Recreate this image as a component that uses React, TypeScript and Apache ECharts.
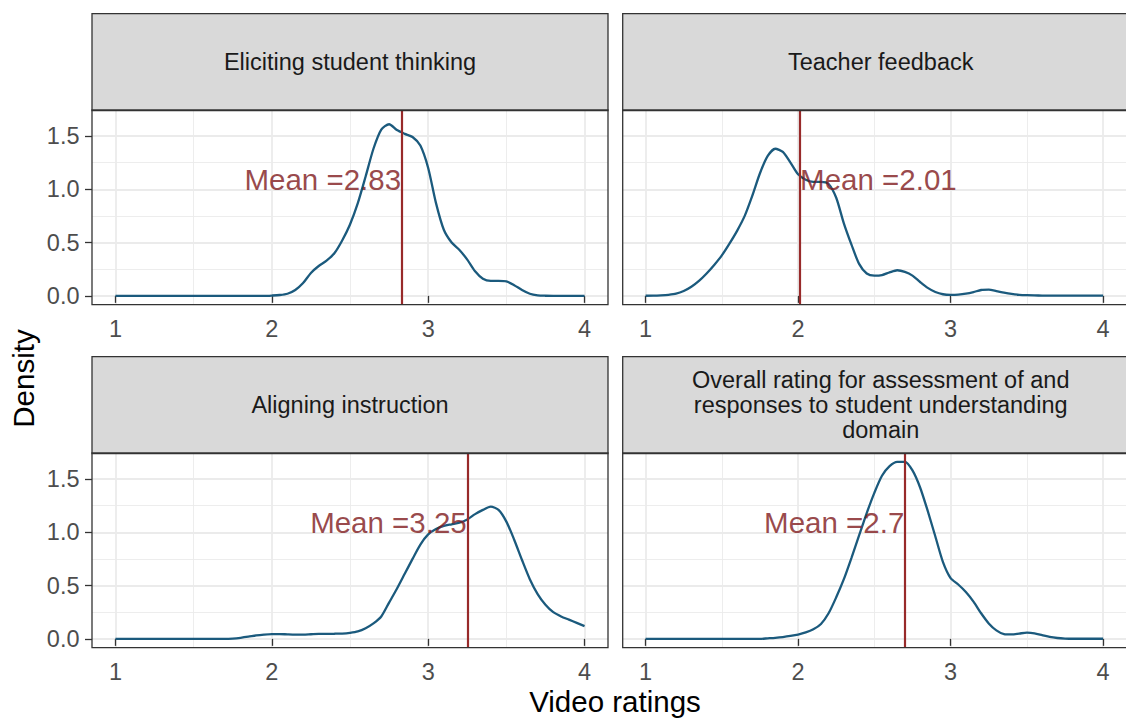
import React, { useEffect, useRef } from "react";
import * as echarts from "echarts";

// ---------- data ----------
const panelTitles = [
  "Eliciting student thinking",
  "Teacher feedback",
  "Aligning instruction",
  "Overall rating for assessment of and\nresponses to student understanding\ndomain",
];

const ratings = [
  1.0, 1.05, 1.1, 1.15, 1.2, 1.25, 1.3, 1.35, 1.4, 1.45,
  1.5, 1.55, 1.6, 1.65, 1.7, 1.75, 1.8, 1.85, 1.9, 1.95,
  2.0, 2.05, 2.1, 2.15, 2.2, 2.25, 2.3, 2.35, 2.4, 2.45,
  2.5, 2.55, 2.6, 2.65, 2.7, 2.75, 2.8, 2.85, 2.9, 2.95,
  3.0, 3.05, 3.1, 3.15, 3.2, 3.25, 3.3, 3.35, 3.4, 3.45,
  3.5, 3.55, 3.6, 3.65, 3.7, 3.75, 3.8, 3.85, 3.9, 3.95,
  4.0,
];

const densityEliciting = [
  0, 0, 0, 0, 0, 0, 0, 0, 0, 0,
  0, 0, 0, 0, 0, 0, 0, 0, 0, 0,
  0.003, 0.008, 0.02, 0.055, 0.12, 0.215, 0.28, 0.33, 0.4, 0.52,
  0.67, 0.87, 1.12, 1.38, 1.56, 1.61, 1.555, 1.52, 1.49, 1.41,
  1.2, 0.87, 0.62, 0.5, 0.43, 0.34, 0.23, 0.16, 0.14, 0.14,
  0.135, 0.1, 0.055, 0.02, 0.005, 0.001, 0, 0, 0, 0,
  0,
];

const densityFeedback = [
  0.001, 0.002, 0.005, 0.01, 0.02, 0.045, 0.085, 0.14, 0.21, 0.29,
  0.38, 0.49, 0.61, 0.75, 0.94, 1.15, 1.31, 1.38, 1.35, 1.25,
  1.14, 1.09, 1.07, 1.07, 1.05, 0.92, 0.68, 0.48, 0.3, 0.21,
  0.19, 0.195, 0.22, 0.24, 0.225, 0.19, 0.13, 0.075, 0.036, 0.015,
  0.01, 0.012, 0.02, 0.035, 0.055, 0.058, 0.045, 0.03, 0.018, 0.01,
  0.006, 0.004, 0.003, 0.002, 0.002, 0.002, 0.002, 0.002, 0.002, 0.002,
  0.002,
];

const densityAligning = [
  0, 0, 0, 0, 0, 0, 0, 0, 0, 0,
  0, 0, 0, 0, 0, 0.003, 0.01, 0.02, 0.032, 0.04,
  0.045, 0.045, 0.042, 0.04, 0.04, 0.043, 0.046, 0.047, 0.048, 0.05,
  0.057, 0.07, 0.1, 0.145, 0.21, 0.34, 0.47, 0.61, 0.75, 0.885,
  0.98, 1.03, 1.06, 1.075, 1.09, 1.12, 1.17, 1.21, 1.24, 1.21,
  1.1, 0.93, 0.74, 0.56, 0.42, 0.32, 0.25, 0.21, 0.18, 0.15,
  0.12,
];

const densityOverall = [
  0, 0, 0, 0, 0, 0, 0, 0, 0, 0,
  0, 0, 0, 0, 0, 0, 0.005, 0.01, 0.017, 0.027,
  0.04, 0.06, 0.09, 0.14, 0.24, 0.39, 0.56, 0.76, 0.97, 1.18,
  1.37, 1.53, 1.62, 1.66, 1.66, 1.58, 1.42, 1.2, 0.96, 0.72,
  0.57, 0.51, 0.44, 0.35, 0.24, 0.145, 0.08, 0.045, 0.042, 0.05,
  0.058, 0.052, 0.035, 0.018, 0.008, 0.003, 0.001, 0.001, 0.001, 0.001,
  0.001,
];

const densities = [densityEliciting, densityFeedback, densityAligning, densityOverall];
const means = [2.83, 2.01, 3.25, 2.7];
const meanLabels = ["Mean =2.83", "Mean =2.01", "Mean =3.25", "Mean =2.7"];
const meanLabelY = 1.09;

const xMajor = [1, 2, 3, 4];
const xMinor = [1.5, 2.5, 3.5];
const yMajor = [0, 0.5, 1, 1.5];
const yMinor = [0.25, 0.75, 1.25];
const xTickLabels = ["1", "2", "3", "4"];
const yTickLabels = ["0.0", "0.5", "1.0", "1.5"];

// ---------- layout / style ----------
const FONT = "'Liberation Sans', Arial, Helvetica, sans-serif";
const panelLeft = [92, 622.7, 92, 622.7];
const panelTop = [110.7, 110.7, 453.7, 453.7];
const stripTop = [13.7, 13.7, 356.7, 356.7];
const panelW = 516;
const panelH = 194;
const stripH = 97;
const labelSide = ["left", "right", "left", "left"];
const X_MIN = 0.85, X_MAX = 4.15, Y_MIN = -0.083, Y_MAX = 1.737;

const CURVE = "#1b5a7d";
const MEAN_LINE = "#982a2a";
const MEAN_TEXT = "#7e181b";
const GRID = "#EBEBEB";
const BORDER = "#333333";

export default function App() {
  const ref = useRef<HTMLDivElement>(null);

  useEffect(() => {
    if (!ref.current) return;
    const chart = echarts.init(ref.current, undefined, { renderer: "svg" });

    const grids: any[] = [];
    const xAxes: any[] = [];
    const yAxes: any[] = [];
    const series: any[] = [];
    const graphics: any[] = [];

    for (let i = 0; i < 4; i++) {
      const isLeft = i % 2 === 0;
      grids.push({ left: panelLeft[i], top: panelTop[i], width: panelW, height: panelH, show: false });

      xAxes.push({
        type: "value",
        gridIndex: i,
        position: "bottom",
        min: X_MIN,
        max: X_MAX,
        axisLine: { show: false },
        axisTick: { show: true, length: 7, lineStyle: { color: BORDER, width: 1.3 }, customValues: xMajor },
        axisLabel: {
          show: true,
          customValues: xMajor,
          margin: 12.5,
          color: "#4D4D4D",
          fontSize: 23.5,
          fontFamily: FONT,
          formatter: (v: number) => xTickLabels[xMajor.indexOf(v)] ?? String(v),
        },
        splitLine: { show: true, lineStyle: { color: GRID, width: 1.8 } },
      });
      xAxes.push({
        type: "value",
        gridIndex: i,
        position: "top",
        min: X_MIN,
        max: X_MAX,
        axisLine: { show: false },
        axisTick: { show: false, customValues: xMinor },
        axisLabel: { show: false, customValues: xMinor },
        splitLine: { show: true, lineStyle: { color: GRID, width: 0.9 } },
      });

      yAxes.push({
        type: "value",
        gridIndex: i,
        position: "left",
        min: Y_MIN,
        max: Y_MAX,
        axisLine: { show: false },
        axisTick: { show: isLeft, length: 7, lineStyle: { color: BORDER, width: 1.3 }, customValues: yMajor },
        axisLabel: {
          show: isLeft,
          customValues: yMajor,
          margin: 12.5,
          color: "#4D4D4D",
          fontSize: 23.5,
          fontFamily: FONT,
          formatter: (v: number) => yTickLabels[yMajor.indexOf(v)] ?? String(v),
        },
        splitLine: { show: true, lineStyle: { color: GRID, width: 1.8 } },
      });
      yAxes.push({
        type: "value",
        gridIndex: i,
        position: "right",
        min: Y_MIN,
        max: Y_MAX,
        axisLine: { show: false },
        axisTick: { show: false, customValues: yMinor },
        axisLabel: { show: false, customValues: yMinor },
        splitLine: { show: true, lineStyle: { color: GRID, width: 0.9 } },
      });

      series.push({
        type: "line",
        xAxisIndex: 2 * i,
        yAxisIndex: 2 * i,
        data: ratings.map((r, k) => [r, densities[i][k]]),
        smooth: 0.25,
        showSymbol: false,
        symbol: "none",
        lineStyle: { color: CURVE, width: 2.3 },
        z: 3,
        silent: true,
      });

      series.push({
        type: "scatter",
        xAxisIndex: 2 * i,
        yAxisIndex: 2 * i,
        data: [[means[i], meanLabelY]],
        symbolSize: 1,
        itemStyle: { color: "rgba(0,0,0,0)" },
        silent: true,
        z: 4,
        label: {
          show: true,
          position: labelSide[i],
          distance: 0,
          formatter: meanLabels[i],
          color: MEAN_TEXT,
          fontSize: 29.5,
          fontFamily: FONT,
        },
        markLine: {
          silent: true,
          symbol: ["none", "none"],
          label: { show: false },
          lineStyle: { color: MEAN_LINE, width: 2.2, type: "solid" },
          data: [{ xAxis: means[i] }],
        },
      });

      // strip
      graphics.push({
        type: "rect",
        z: 100,
        shape: { x: panelLeft[i], y: stripTop[i], width: panelW, height: stripH },
        style: { fill: "#D9D9D9", stroke: BORDER, lineWidth: 1.3 },
        silent: true,
      });
      graphics.push({
        type: "text",
        z: 101,
        x: panelLeft[i] + panelW / 2,
        y: stripTop[i] + stripH / 2,
        silent: true,
        style: {
          text: panelTitles[i],
          fill: "#1A1A1A",
          fontSize: 23.5,
          fontFamily: FONT,
          align: "center",
          verticalAlign: "middle",
          lineHeight: 25,
        },
      });
      // panel border
      graphics.push({
        type: "rect",
        z: 100,
        shape: { x: panelLeft[i], y: panelTop[i] - 0.7, width: panelW, height: panelH + 0.7 },
        style: { fill: "none", stroke: BORDER, lineWidth: 1.3 },
        silent: true,
      });
    }

    graphics.push({
      type: "text",
      z: 101,
      x: 23,
      y: 378.5,
      rotation: Math.PI / 2,
      silent: true,
      style: { text: "Density", fill: "#000", fontSize: 29.5, fontFamily: FONT, align: "center", verticalAlign: "middle" },
    });
    graphics.push({
      type: "text",
      z: 101,
      x: 615,
      y: 701.5,
      silent: true,
      style: { text: "Video ratings", fill: "#000", fontSize: 29.5, fontFamily: FONT, align: "center", verticalAlign: "middle" },
    });

    chart.setOption({
      animation: false,
      backgroundColor: "#ffffff",
      grid: grids,
      xAxis: xAxes,
      yAxis: yAxes,
      series,
      graphic: graphics,
    });

    return () => chart.dispose();
  }, []);

  return (
    <div
      ref={ref}
      style={{ position: "fixed", left: 0, top: 0, width: 1126, height: 718, background: "#fff" }}
    />
  );
}
